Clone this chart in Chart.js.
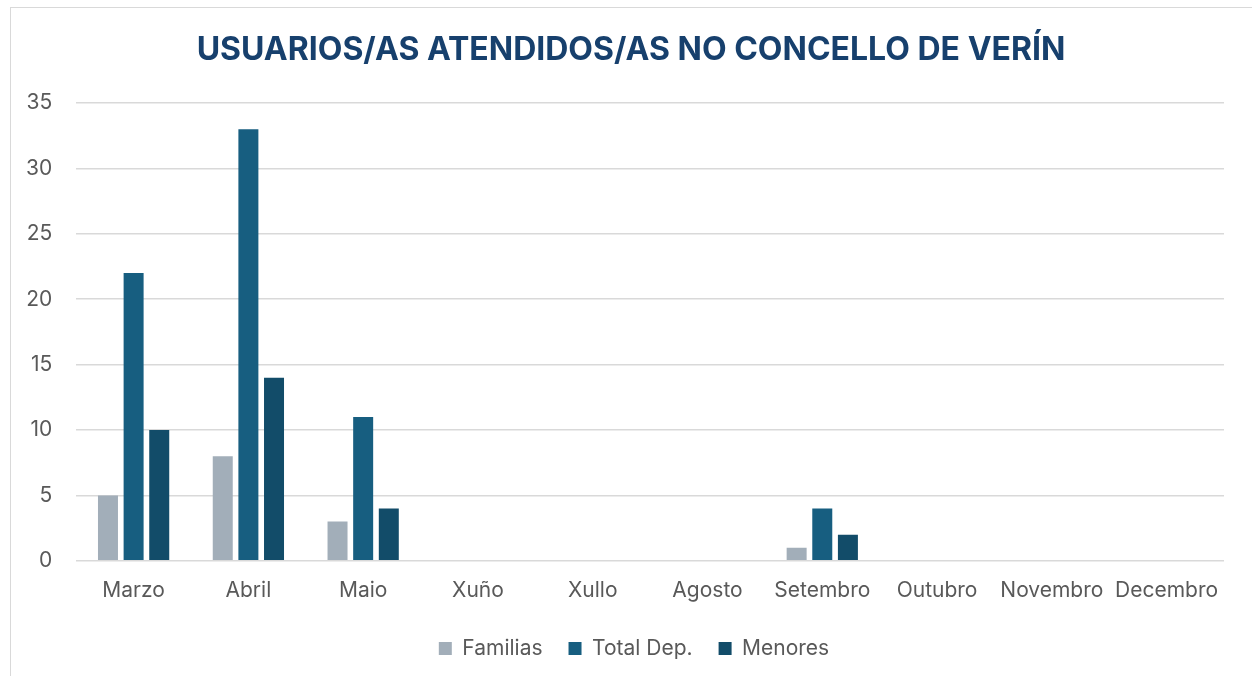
<!DOCTYPE html>
<html>
<head>
<meta charset="utf-8">
<script src="https://cdn.jsdelivr.net/npm/chart.js@4.4.1/dist/chart.umd.min.js"></script>
<style>
  html, body { margin: 0; padding: 0; background: #fff; overflow: hidden; }
  #frame { position: absolute; left: 10px; top: 7px; width: 1400px; height: 800px;
           border-left: 1.5px solid #d9d9d9; border-top: 1.5px solid #d9d9d9; }
  #wrap { position: absolute; left: 0; top: 0; width: 1252px; height: 676px; }
</style>
</head>
<body>
<div id="frame"></div>
<div id="wrap"><canvas id="usuariosChart"></canvas></div>
<script>
const meses = ['Marzo', 'Abril', 'Maio', 'Xuño', 'Xullo', 'Agosto', 'Setembro', 'Outubro', 'Novembro', 'Decembro'];
const familias = [5, 8, 3, null, null, null, 1, null, null, null];
const totalDep = [22, 33, 11, null, null, null, 4, null, null, null];
const menores = [10, 14, 4, null, null, null, 2, null, null, null];

const tituloTexto = 'USUARIOS/AS ATENDIDOS/AS NO CONCELLO DE VERÍN';
const fontFamily = 'Inter, "Noto Sans", sans-serif';
const textColor = '#595959';

// title and legend centred on the whole framed area, not just over the plot
const centrarPlugin = {
  id: 'centrarCabeceira',
  afterLayout(chart) {
    chart.legend.left += 21;
    chart.legend.right += 21;
  },
  afterDraw(chart) {
    const ctx = chart.ctx;
    ctx.save();
    ctx.font = 'bold 32px ' + fontFamily;
    ctx.fillStyle = '#17406d';
    ctx.textAlign = 'center';
    ctx.textBaseline = 'middle';
    ctx.fillText(tituloTexto, (10 + chart.width) / 2, 50);
    ctx.restore();
  }
};

new Chart(document.getElementById('usuariosChart'), {
  type: 'bar',
  data: {
    labels: meses,
    datasets: [
      { label: 'Familias', data: familias, backgroundColor: '#a2aeb9' },
      { label: 'Total Dep.', data: totalDep, backgroundColor: '#175e80' },
      { label: 'Menores', data: menores, backgroundColor: '#124c69' }
    ]
  },
  plugins: [centrarPlugin],
  options: {
    responsive: true,
    maintainAspectRatio: false,
    animation: false,
    categoryPercentage: 0.67,
    barPercentage: 0.78,
    layout: { padding: { left: 2, right: 28, top: 103, bottom: 7 } },
    plugins: {
      title: { display: false },
      legend: {
        position: 'bottom',
        labels: {
          color: textColor,
          font: { family: fontFamily, size: 21 },
          boxWidth: 13,
          boxHeight: 13,
          padding: 26
        }
      },
      tooltip: { enabled: false }
    },
    scales: {
      x: {
        grid: { display: false },
        border: { display: false },
        ticks: { color: textColor, font: { family: fontFamily, size: 21 }, autoSkip: false, maxRotation: 0, padding: 9 }
      },
      y: {
        min: 0,
        max: 35,
        grid: { color: '#d9d9d9', lineWidth: 1.5, drawTicks: false },
        border: { display: false },
        ticks: { stepSize: 5, color: textColor, font: { family: fontFamily, size: 21 }, padding: 24 }
      }
    }
  }
});
</script>
</body>
</html>
